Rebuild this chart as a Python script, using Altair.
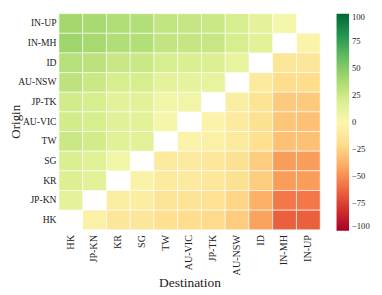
import altair as alt
import pandas as pd

origins = ["IN-UP", "IN-MH", "ID", "AU-NSW", "JP-TK", "AU-VIC", "TW", "SG", "KR", "JP-KN", "HK"]
destinations = ["HK", "JP-KN", "KR", "SG", "TW", "AU-VIC", "JP-TK", "AU-NSW", "ID", "IN-MH", "IN-UP"]

row_in_up = [40, 38, 35, 34, 28, 27, 25, 20, 12, 3, None]
row_in_mh = [42, 39, 35, 34, 28, 27, 26, 20, 13, None, -3]
row_id = [33, 31, 26, 25, 20, 18, 17, 10, None, -13, -13]
row_au_nsw = [30, 25, 20, 20, 12, 11, 10, None, -10, -20, -20]
row_jp_tk = [22, 20, 13, 13, 5, 4, None, -7, -15, -28, -28]
row_au_vic = [22, 20, 14, 13, 3, None, -3, -10, -17, -30, -32]
row_tw = [25, 22, 14, 13, None, -3, -5, -10, -18, -32, -32]
row_sg = [18, 14, 5, None, -10, -10, -12, -17, -27, -45, -45]
row_kr = [17, 13, None, -4, -10, -10, -12, -17, -27, -45, -45]
row_jp_kn = [12, None, -8, -8, -14, -15, -16, -23, -38, -57, -57]
row_hk = [None, -5, -13, -13, -18, -20, -21, -27, -43, -65, -65]

rows = [row_in_up, row_in_mh, row_id, row_au_nsw, row_jp_tk, row_au_vic,
        row_tw, row_sg, row_kr, row_jp_kn, row_hk]

records = []
for o, vals in zip(origins, rows):
    for d, v in zip(destinations, vals):
        if v is not None:
            records.append({"Origin": o, "Destination": d, "value": v})
df = pd.DataFrame(records)

FONT = "Liberation Serif"

chart = alt.Chart(df).mark_rect(stroke="white", strokeWidth=1, strokeOpacity=0.6).encode(
    x=alt.X("Destination:N", sort=destinations,
            scale=alt.Scale(paddingInner=0, paddingOuter=0),
            axis=alt.Axis(title="Destination", labelAngle=-90, labelAlign="right",
                          labelBaseline="middle", ticks=False, domain=False,
                          labelPadding=5, labelFontSize=10.5,
                          titleFontSize=14, titleFontWeight="normal",
                          titleY=59, titleBaseline="alphabetic")),
    y=alt.Y("Origin:N", sort=origins,
            scale=alt.Scale(paddingInner=0, paddingOuter=0),
            axis=alt.Axis(title="Origin", ticks=False, domain=False,
                          labelPadding=3, labelFontSize=10,
                          titleFontSize=13.5, titleFontWeight="normal",
                          titleX=-41.5, titleY=112, titleAngle=270,
                          titleAlign="center", titleBaseline="alphabetic")),
    color=alt.Color("value:Q",
                    scale=alt.Scale(scheme="redyellowgreen", domain=[-100, 100]),
                    legend=alt.Legend(title=None, orient="right", offset=17,
                                      gradientLength=226, gradientThickness=13,
                                      values=[-100, -75, -50, -25, 0, 25, 50, 75, 100],
                                      labelFontSize=9, labelOffset=3,
                                      gradientStrokeWidth=0)),
).properties(
    width=272, height=225,
    autosize=alt.AutoSizeParams(type="none"),
    padding={"left": 53, "top": 0, "right": 56, "bottom": 62},
).configure(font=FONT).configure_axis(
    labelFont=FONT, titleFont=FONT, labelColor="#222", titleColor="#222"
).configure_legend(
    labelFont=FONT, labelColor="#222"
).configure_view(stroke=None)

chart.save("out.html", embed_options={"renderer": "svg", "actions": False})
